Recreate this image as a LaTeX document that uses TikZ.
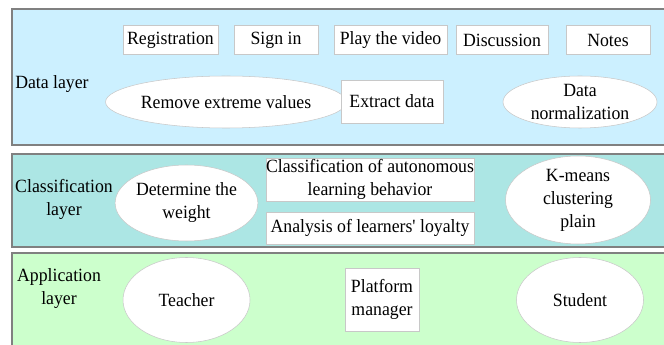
\documentclass[tikz,border=0pt]{standalone}
\usepackage{fontspec}
\setmainfont{Liberation Serif}[Ligatures=TeXOff, FakeStretch=0.95]
\usetikzlibrary{shapes.geometric}
\definecolor{datafill}{RGB}{204,240,255}
\definecolor{classfill}{RGB}{172,230,228}
\definecolor{appfill}{RGB}{204,255,204}
\definecolor{layerline}{RGB}{128,128,128}
\definecolor{nodeline}{RGB}{200,200,200}
\tikzset{
  layerbox/.style={draw=layerline, line width=1.5pt},
  layertext/.style={align=center, inner sep=0pt, font=\fontsize{14pt}{17.25pt}\selectfont},
  rbox/.style={draw=nodeline, line width=0.4pt, fill=white, inner sep=0pt, align=center,
    font=\fontsize{14pt}{17.25pt}\selectfont},
  ebox/.style={ellipse, draw=nodeline, line width=0.4pt, fill=white, inner sep=0pt, align=center,
    font=\fontsize{14pt}{17.25pt}\selectfont},
}
\begin{document}
\begin{tikzpicture}[x=0.75pt, y=-0.75pt]
\useasboundingbox (0,0) rectangle (664,345);
\fill[white] (0,0) rectangle (664,345);
% layers
\draw[layerbox, fill=datafill] (12,9) rectangle (680,145);
\draw[layerbox, fill=classfill] (12,154) rectangle (680,247);
\draw[layerbox, fill=appfill] (12,253) rectangle (680,360);
% labels
\node[layertext, anchor=west] (ldata) at (15,84) {Data layer};
\node[layertext] (lclass) at (64,199) {Classification\\layer};
\node[layertext] (lapp) at (59,289) {Application\\layer};
% data layer
\node[rbox, minimum width=95*0.75pt, minimum height=29*0.75pt] (reg) at (170.5,40) {Registration};
\node[rbox, minimum width=84*0.75pt, minimum height=29*0.75pt] (sign) at (276,40) {Sign in};
\node[rbox, minimum width=113*0.75pt, minimum height=29*0.75pt] (play) at (390.5,40) {Play the video};
\node[rbox, minimum width=92*0.75pt, minimum height=29*0.75pt] (disc) at (502,40) {Discussion};
\node[rbox, minimum width=84*0.75pt, minimum height=29*0.75pt] (notes) at (608,40) {Notes};
\node[ebox, minimum width=207*0.75pt, minimum height=52*0.75pt] (remove) at (226,102) {Remove extreme values};
\node[rbox, minimum width=102*0.75pt, minimum height=43*0.75pt] (extract) at (392,101.5) {Extract data};
\node[ebox, minimum width=154*0.75pt, minimum height=52*0.75pt] (norm) at (580,102) {Data\\normalization};
% classification layer
\node[ebox, minimum width=127*0.75pt, minimum height=76*0.75pt] (weight) at (186.5,203) {Determine the\\weight};
\node[rbox, minimum width=208*0.75pt, minimum height=43*0.75pt] (auto) at (370,179.5) {Classification of autonomous\\learning behavior};
\node[rbox, minimum width=208*0.75pt, minimum height=32*0.75pt] (loyal) at (370,228) {Analysis of learners' loyalty};
\node[ebox, minimum width=145*0.75pt, minimum height=88*0.75pt] (kmeans) at (578,200) {K-means\\clustering\\plain};
% application layer
\node[ebox, minimum width=127*0.75pt, minimum height=85*0.75pt] (teacher) at (186.5,300) {Teacher};
\node[rbox, minimum width=74*0.75pt, minimum height=63*0.75pt] (pm) at (382,299.5) {Platform\\manager};
\node[ebox, minimum width=127*0.75pt, minimum height=85*0.75pt] (student) at (580,300) {Student};
\end{tikzpicture}
\end{document}
